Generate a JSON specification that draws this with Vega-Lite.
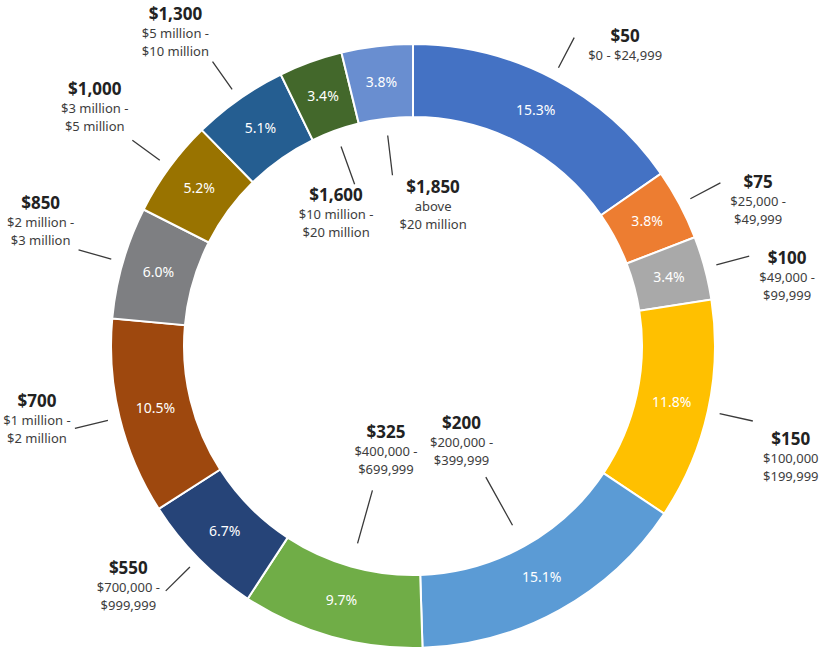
{
  "$schema": "https://vega.github.io/schema/vega-lite/v6.json",
  "width": 814,
  "height": 610,
  "autosize": {"type": "none"},
  "padding": {"left": 6, "top": 41, "right": 0, "bottom": 0},
  "background": "white",
  "config": {"view": {"stroke": null}},
  "data": {
    "values": [
      {"idx": 1, "price": "$50", "bracket": "$0 - $24,999", "share": 0.153},
      {"idx": 2, "price": "$75", "bracket": "$25,000 -\n$49,999", "share": 0.038},
      {"idx": 3, "price": "$100", "bracket": "$49,000 -\n$99,999", "share": 0.034},
      {"idx": 4, "price": "$150", "bracket": "$100,000\n$199,999", "share": 0.118},
      {"idx": 5, "price": "$200", "bracket": "$200,000 -\n$399,999", "share": 0.151},
      {"idx": 6, "price": "$325", "bracket": "$400,000 -\n$699,999", "share": 0.097},
      {"idx": 7, "price": "$550", "bracket": "$700,000 -\n$999,999", "share": 0.067},
      {"idx": 8, "price": "$700", "bracket": "$1 million -\n$2 million", "share": 0.105},
      {"idx": 9, "price": "$850", "bracket": "$2 million -\n$3 million", "share": 0.060},
      {"idx": 10, "price": "$1,000", "bracket": "$3 million -\n$5 million", "share": 0.052},
      {"idx": 11, "price": "$1,300", "bracket": "$5 million -\n$10 million", "share": 0.051},
      {"idx": 12, "price": "$1,600", "bracket": "$10 million -\n$20 million", "share": 0.034},
      {"idx": 13, "price": "$1,850", "bracket": "above\n$20 million", "share": 0.038}
    ]
  },
  "encoding": {
    "theta": {"field": "share", "type": "quantitative", "stack": true},
    "order": {"field": "idx", "type": "quantitative", "sort": "ascending"},
    "detail": {"field": "price", "type": "nominal"}
  },
  "layer": [
    {
      "mark": {"type": "arc", "outerRadius": 302, "innerRadius": 229, "stroke": "white", "strokeWidth": 2},
      "encoding": {
        "color": {
          "field": "price",
          "type": "nominal",
          "legend": null,
          "scale": {
            "domain": ["$50", "$75", "$100", "$150", "$200", "$325", "$550", "$700", "$850", "$1,000", "$1,300", "$1,600", "$1,850"],
            "range": ["#4472C4", "#ED7D31", "#A9A9A9", "#FFC000", "#5B9BD5", "#70AD47", "#264478", "#9E480E", "#7E7F82", "#997300", "#255E91", "#43682B", "#698ED0"]
          }
        }
      }
    },
    {
      "mark": {
        "type": "arc",
        "filled": false,
        "stroke": "#3a3a3a",
        "strokeWidth": 1.3,
        "padAngle": 3,
        "outerRadius": {"expr": "datum.idx == 5 || datum.idx == 6 ? 205 : datum.idx >= 12 ? 212 : 348"},
        "innerRadius": {"expr": "datum.idx == 5 || datum.idx == 6 ? 150 : datum.idx >= 12 ? 172 : 314"}
      }
    },
    {
      "mark": {"type": "text", "radius": 265, "fill": "white", "fontSize": 14, "font": "Noto Sans"},
      "encoding": {"text": {"field": "share", "type": "quantitative", "format": ".1%"}}
    },
    {
      "mark": {
        "type": "text",
        "radius": {"expr": "datum.idx == 5 || datum.idx == 6 ? 100 : datum.idx >= 12 ? 150 : 350"},
        "align": "center",
        "dx": {"expr": "datum.idx == 1 ? 50 : datum.idx <= 4 ? 36 : datum.idx <= 6 ? 0 : datum.idx <= 11 ? -36 : datum.idx == 12 ? -26 : 38"},
        "dy": {"expr": "datum.idx <= 2 ? 10 : datum.idx == 3 ? 12 : datum.idx == 4 ? 28 : datum.idx == 7 ? -14 : datum.idx == 8 ? -18 : datum.idx == 9 ? -36 : datum.idx == 10 ? -40 : datum.idx == 11 ? -36 : 0"},
        "baseline": "bottom",
        "fontWeight": "bold",
        "fontSize": 17,
        "font": "Noto Sans",
        "fill": "#222222"
      },
      "encoding": {"text": {"field": "price", "type": "nominal"}}
    },
    {
      "mark": {
        "type": "text",
        "radius": {"expr": "datum.idx == 5 || datum.idx == 6 ? 100 : datum.idx >= 12 ? 150 : 350"},
        "align": "center",
        "dx": {"expr": "datum.idx == 1 ? 50 : datum.idx <= 4 ? 36 : datum.idx <= 6 ? 0 : datum.idx <= 11 ? -36 : datum.idx == 12 ? -26 : 38"},
        "dy": {"expr": "4 + (datum.idx <= 2 ? 10 : datum.idx == 3 ? 12 : datum.idx == 4 ? 28 : datum.idx == 7 ? -14 : datum.idx == 8 ? -18 : datum.idx == 9 ? -36 : datum.idx == 10 ? -40 : datum.idx == 11 ? -36 : 0)"},
        "baseline": "top",
        "lineBreak": "\n",
        "lineHeight": 18,
        "fontSize": 13,
        "font": "Noto Sans",
        "fill": "#3d3d3d"
      },
      "encoding": {"text": {"field": "bracket", "type": "nominal"}}
    }
  ]
}
